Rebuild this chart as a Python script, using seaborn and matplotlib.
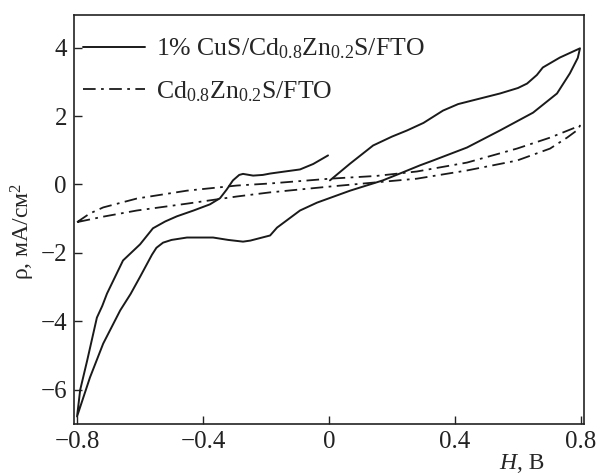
import matplotlib
matplotlib.use('Agg')
import matplotlib.pyplot as plt
import seaborn as sns
import pandas as pd

# 1% CuS/Cd0.8Zn0.2S/FTO cycle (solid)
cus_x = [0.003, 0.067, 0.14, 0.20, 0.248, 0.30, 0.362, 0.41, 0.457, 0.543, 0.60, 0.629,
         0.66, 0.679, 0.733, 0.797, 0.790, 0.765, 0.724, 0.648, 0.543, 0.438, 0.33, 0.289,
         0.225, 0.171, 0.067, -0.038, -0.092, -0.165, -0.187, -0.25, -0.273, -0.32, -0.368,
         -0.451, -0.50, -0.527, -0.548, -0.562, -0.60, -0.63, -0.663, -0.717, -0.759, -0.80,
         -0.79, -0.768, -0.737, -0.72, -0.705, -0.654, -0.60, -0.559, -0.52, -0.483, -0.43,
         -0.378, -0.346, -0.325, -0.305, -0.285, -0.273, -0.241, -0.21, -0.187, -0.14, -0.092,
         -0.05, -0.003]
cus_y = [0.12, 0.61, 1.14, 1.40, 1.58, 1.80, 2.16, 2.35, 2.46, 2.66, 2.82, 2.95,
         3.20, 3.42, 3.71, 3.98, 3.70, 3.25, 2.66, 2.10, 1.58, 1.08, 0.70, 0.56,
         0.32, 0.12, -0.18, -0.53, -0.76, -1.26, -1.49, -1.64, -1.67, -1.62, -1.55,
         -1.55, -1.62, -1.70, -1.85, -2.05, -2.7, -3.2, -3.68, -4.65, -5.64, -6.78,
         -6.0, -5.15, -3.89, -3.55, -3.19, -2.22, -1.75, -1.28, -1.08, -0.93, -0.76,
         -0.58, -0.40, -0.15, 0.12, 0.28, 0.31, 0.26, 0.28, 0.32, 0.38, 0.44,
         0.60, 0.85]

# Cd0.8Zn0.2S/FTO cycle (dash-dot)
czs_x = [-0.8, -0.76, -0.717, -0.61, -0.451, -0.292, -0.187, 0.003, 0.15, 0.279, 0.438,
         0.597, 0.702, 0.797, 0.79, 0.756, 0.702, 0.597, 0.438, 0.279, 0.003, -0.187,
         -0.292, -0.451, -0.61, -0.717, -0.8]
czs_y = [-1.1, -0.85, -0.67, -0.41, -0.18, -0.03, 0.03, 0.17, 0.25, 0.38, 0.64,
         1.05, 1.37, 1.72, 1.60, 1.37, 1.05, 0.70, 0.41, 0.17, -0.06, -0.23,
         -0.35, -0.56, -0.76, -0.94, -1.1]

labels = ['1% CuS/Cd$_{0.8}$Zn$_{0.2}$S/FTO', 'Cd$_{0.8}$Zn$_{0.2}$S/FTO']
xticks = [-0.8, -0.4, 0, 0.4, 0.8]
xticklabels = ['\u22120.8', '\u22120.4', '0', '0.4', '0.8']
yticks = [-6, -4, -2, 0, 2, 4]
yticklabels = ['\u22126', '\u22124', '\u22122', '0', '2', '4']

sns.set_style('ticks')
plt.rcParams['font.family'] = ['Liberation Serif', 'DejaVu Serif']
plt.rcParams['mathtext.fontset'] = 'custom'
plt.rcParams['mathtext.rm'] = 'Liberation Serif'
plt.rcParams['mathtext.it'] = 'Liberation Serif:italic'

fig = plt.figure(figsize=(5.96, 4.73), dpi=100)
ax = fig.add_axes([0.124, 0.1036, 0.856, 0.8644])

df1 = pd.DataFrame({'x': cus_x, 'y': cus_y})
df2 = pd.DataFrame({'x': czs_x, 'y': czs_y})
sns.lineplot(data=df1, x='x', y='y', sort=False, estimator=None, ax=ax,
             color='#1a1a1a', lw=1.4, label=labels[0])
sns.lineplot(data=df2, x='x', y='y', sort=False, estimator=None, ax=ax,
             color='#1a1a1a', lw=1.3, linestyle=(0, (7, 3, 1.5, 3)), label=labels[1])

ax.set_xlim(-0.81, 0.81)
ax.set_ylim(-7.0, 4.95)
ax.set_xticks(xticks)
ax.set_xticklabels(xticklabels)
ax.set_yticks(yticks)
ax.set_yticklabels(yticklabels)
ax.tick_params(direction='in', length=6, width=1, labelsize=18, colors='#222222', pad=5)
for s in ax.spines.values():
    s.set_linewidth(1.2)
    s.set_color('#222222')

ax.set_xlabel('')
ax.set_ylabel('\u03c1, мА/см$^2$', fontsize=17)
ax.yaxis.set_label_coords(-0.073, 0.47)
ax.text(0.868, -0.07, 'Н', style='italic', fontsize=17, transform=ax.transAxes, ha='right', va='top')
ax.text(0.868, -0.07, ', В', fontsize=17, transform=ax.transAxes, ha='left', va='top')

leg = ax.legend(loc='upper left', bbox_to_anchor=(-0.012, 0.985), frameon=False, fontsize=18.5,
                handlelength=2.4, handletextpad=0.45, labelspacing=0.7, borderaxespad=0.2)

fig.savefig('out.png', dpi=100)
